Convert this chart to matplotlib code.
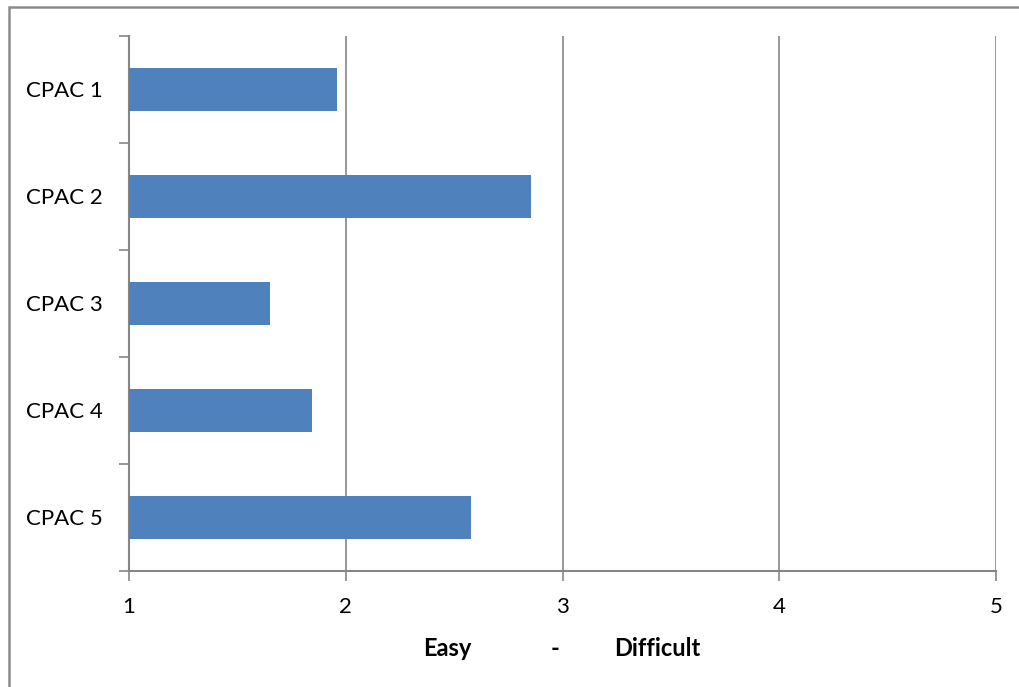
import numpy as np
import matplotlib
matplotlib.use("Agg")
from matplotlib import pyplot as plt
from matplotlib.patches import Rectangle

categories = ["CPAC 1", "CPAC 2", "CPAC 3", "CPAC 4", "CPAC 5"]
scores = [1.96, 2.855, 1.65, 1.845, 2.578]
x_ticks = [1, 2, 3, 4, 5]
label_parts = ["Easy", "-", "Difficult"]

plt.rcParams["font.family"] = ["Lato", "DejaVu Sans"]
grey = "#868686"
fs = 16

fig = plt.figure(figsize=(10.2, 6.87), dpi=100)
ax = fig.add_axes([0.1265, 0.1689, 0.85, 0.7787])

# categories top to bottom
pos = np.arange(len(categories))[::-1]
ax.barh(pos, np.array(scores) - 1, left=1, height=0.4, color="#4F81BD", zorder=3)

ax.set_xlim(1, 5)
ax.set_ylim(-0.5, len(categories) - 0.5)
ax.set_xticks(x_ticks)
ax.set_xticklabels([str(v) for v in x_ticks], fontsize=fs)

# major ticks on the category boundaries, labels on minor ticks
ax.set_yticks(np.arange(len(categories) + 1) - 0.5)
ax.set_yticklabels([])
ax.set_yticks(pos, minor=True)
ax.set_yticklabels(categories, minor=True, fontsize=fs)
ax.tick_params(axis="y", which="minor", length=0, pad=19)
ax.tick_params(axis="y", which="major", length=7, width=1.2, color=grey)
ax.tick_params(axis="x", length=7, width=1.2, color=grey, pad=12)

ax.grid(axis="x", color=grey, lw=1.2, zorder=0)
for side in ("top", "right"):
    ax.spines[side].set_visible(False)
for side in ("left", "bottom"):
    ax.spines[side].set_color(grey)
    ax.spines[side].set_linewidth(1.5)

# bold axis caption in three pieces
for txt, xf in zip(label_parts, [0.367, 0.491, 0.609]):
    ax.text(xf, -0.145, txt, transform=ax.transAxes, ha="center", va="center",
            fontsize=17, fontweight="bold")

# outer chart frame, running off the right and bottom edges
fig.patches.append(Rectangle((9.5 / 1020, -0.1), 1.2, 1.0 - 6.5 / 687 + 0.1,
                             transform=fig.transFigure, fill=False,
                             edgecolor="#8c8c8c", lw=1.8))

fig.savefig("out.png", dpi=100)
